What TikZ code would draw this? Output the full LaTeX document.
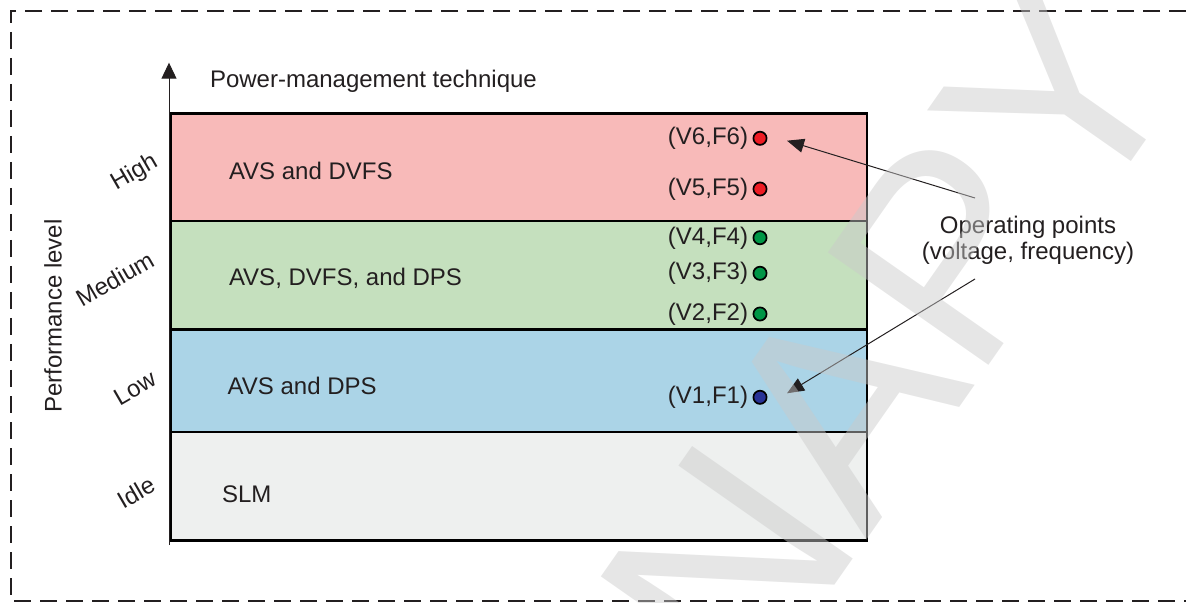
\documentclass[tikz,border=0pt]{standalone}
\usepackage{fontspec}
\setmainfont{Liberation Sans}
\usetikzlibrary{arrows.meta}
\definecolor{rowpink}{RGB}{248,186,185}
\definecolor{rowgreen}{RGB}{197,224,190}
\definecolor{rowblue}{RGB}{171,212,231}
\definecolor{rowgray}{RGB}{238,240,239}
\definecolor{dotred}{RGB}{237,28,36}
\definecolor{dotgreen}{RGB}{0,150,70}
\definecolor{dotblue}{RGB}{40,50,150}
\definecolor{txt}{RGB}{35,31,32}
\definecolor{wm}{RGB}{202,202,202}
\begin{document}
\begin{tikzpicture}[x=0.5pt,y=-0.5pt,
  lbl/.style={font=\fontsize{12}{13}\selectfont, text=txt, inner sep=0pt, outer sep=0pt},
  lvl/.style={lbl, rotate=30, anchor=base east},
  rowbox/.style={draw=black, line width=1.4pt, anchor=north west, inner sep=0pt, outer sep=0pt, minimum width=348.15pt},
  opdot/.style={circle, draw=black, line width=0.85pt, minimum size=6.6pt, inner sep=0pt},
  ptr/.style={draw=txt, line width=0.5pt, -{Triangle[length=8.5pt,width=7pt]}},
  frame/.style={draw=txt, line width=1.4pt, dash pattern=on 8.5pt off 4.5pt}
]
\useasboundingbox (0,0) rectangle (1186,603);
% dashed frame (right side lies beyond the picture)
\draw[frame] (1186,11) -- (11,11) -- (11,601) -- (1186,601);
% rows
\node[rowbox, fill=rowpink,  minimum height=53.75pt] (rhigh) at (170.7,113.5) {};
\node[rowbox, fill=rowgreen, minimum height=54.25pt] (rmed)  at (170.7,221) {};
\node[rowbox, fill=rowblue,  minimum height=51.25pt] (rlow)  at (170.7,329.5) {};
\node[rowbox, fill=rowgray,  minimum height=54.25pt] (ridle) at (170.7,432) {};
% axis
\coordinate (axb) at (169,545);
\coordinate (axt) at (169,62.7);
\draw[draw=txt, line width=0.5pt, -{Triangle[length=8pt,width=7.5pt]}] (axb) -- (axt);
\node[lbl, anchor=base west] (pmt) at (210,87.7) {Power-management technique};
\node[lbl, rotate=90, anchor=base] (perf) at (61.7,316) {Performance level};
% level labels
\node[lvl] (lhigh) at (159,166) {High};
\node[lvl] (lmed)  at (156,265) {Medium};
\node[lvl] (llow)  at (158,384) {Low};
\node[lvl] (lidle) at (157,490) {Idle};
% row texts
\node[lbl, anchor=base west] (thigh) at (229,179.3) {AVS and DVFS};
\node[lbl, anchor=base west] (tmed)  at (229,286) {AVS, DVFS, and DPS};
\node[lbl, anchor=base west] (tlow)  at (227.7,394.3) {AVS and DPS};
\node[lbl, anchor=base west] (tidle) at (222,502.7) {SLM};
% operating points
\node[opdot, fill=dotred]   (p6) at (760,138.3) {};
\node[opdot, fill=dotred]   (p5) at (760,189) {};
\node[opdot, fill=dotgreen] (p4) at (760,237.7) {};
\node[opdot, fill=dotgreen] (p3) at (760,273.3) {};
\node[opdot, fill=dotgreen] (p2) at (760,314) {};
\node[opdot, fill=dotblue]  (p1) at (760,397.3) {};
\node[lbl, anchor=base east] (v6) at (748,144.8) {(V6,F6)};
\node[lbl, anchor=base east] (v5) at (748,195.5) {(V5,F5)};
\node[lbl, anchor=base east] (v4) at (748,244.2) {(V4,F4)};
\node[lbl, anchor=base east] (v3) at (748,279.8) {(V3,F3)};
\node[lbl, anchor=base east] (v2) at (748,320.5) {(V2,F2)};
\node[lbl, anchor=base east] (v1) at (748,403.8) {(V1,F1)};
% callout
\node[lbl, align=center] (op) at (1028,240) {Operating points\\(voltage, frequency)};
\coordinate (s6) at (975,198);
\coordinate (t6) at (787,140.7);
\coordinate (s1) at (975,279);
\coordinate (t1) at (787,393.3);
\draw[ptr] (s6) -- (t6);
\draw[ptr] (s1) -- (t1);
% watermark
\begin{scope}
\clip (0,0) rectangle (1186,603);
\node[font=\fontsize{142.5}{150}\selectfont, text=wm, text opacity=0.47, rotate=55, anchor=base west, inner sep=0pt] (wmark) at (748,709) {NAPY};
\end{scope}
\end{tikzpicture}
\end{document}
